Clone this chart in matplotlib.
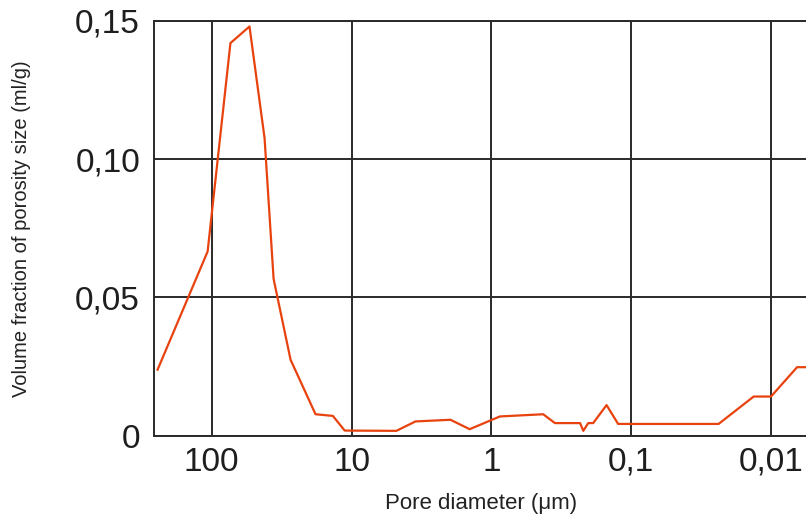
import numpy as np
import matplotlib
matplotlib.use("Agg")
import matplotlib.pyplot as plt

plt.rcParams['font.family'] = ['Liberation Sans', 'DejaVu Sans']

# pore diameter (um) and volume fraction (ml/g)
diameter = [244, 107, 73.5, 53.7, 41.9, 36.1, 27.3, 18.1, 13.6, 11.2,
            4.78, 3.49, 1.96, 1.43, 0.869, 0.426, 0.351, 0.232, 0.220,
            0.203, 0.187, 0.150, 0.124, 0.0237, 0.0133, 0.0100, 0.00651,
            0.0050]
volume = [0.0239, 0.0666, 0.1419, 0.1479, 0.1076, 0.0567, 0.0275, 0.0078,
          0.0072, 0.0019, 0.0018, 0.0052, 0.0058, 0.0024, 0.0070, 0.0078,
          0.0046, 0.0046, 0.0018, 0.0046, 0.0046, 0.0111, 0.0043, 0.0043,
          0.0142, 0.0142, 0.0248, 0.0248]

xticks = [100, 10, 1, 0.1, 0.01]
xlabels = ['100', '10', '1', '0,1', '0,01']
yticks = [0, 0.05, 0.10, 0.15]
ylabels = ['0', '0,05', '0,10', '0,15']

fig = plt.figure(figsize=(8.06, 5.17), dpi=100)
ax = fig.add_axes([0.191, 0.157, 0.809, 0.803])

ax.plot(diameter, volume, color='#e8420e', lw=1.6, zorder=3)

ax.set_xscale('log')
ax.set_xlim(259, 0.00562)
ax.set_ylim(0, 0.15)

ax.set_xticks(xticks)
ax.set_xticklabels(xlabels, fontsize=24)
ax.minorticks_off()
ax.set_yticks(yticks)
ax.set_yticklabels(ylabels, fontsize=24)
ax.tick_params(axis='y', length=0, pad=10, colors='#1e1e1e')
ax.tick_params(axis='x', length=0, pad=8, colors='#1e1e1e')

ax.grid(True, color='#2a2a2a', lw=1.4)
for s in ['left', 'bottom', 'top']:
    ax.spines[s].set_color('#2a2a2a')
    ax.spines[s].set_linewidth(1.4)
ax.spines['right'].set_visible(False)

ax.set_xlabel('Pore diameter (\u03bcm)', fontsize=16, color='#222222')
ax.xaxis.set_label_coords(0.502, -0.138)
ax.set_ylabel('Volume fraction of porosity size (ml/g)', fontsize=14.5,
              color='#222222')
ax.yaxis.set_label_coords(-0.188, 0.5)

fig.savefig('out.png', dpi=100)
